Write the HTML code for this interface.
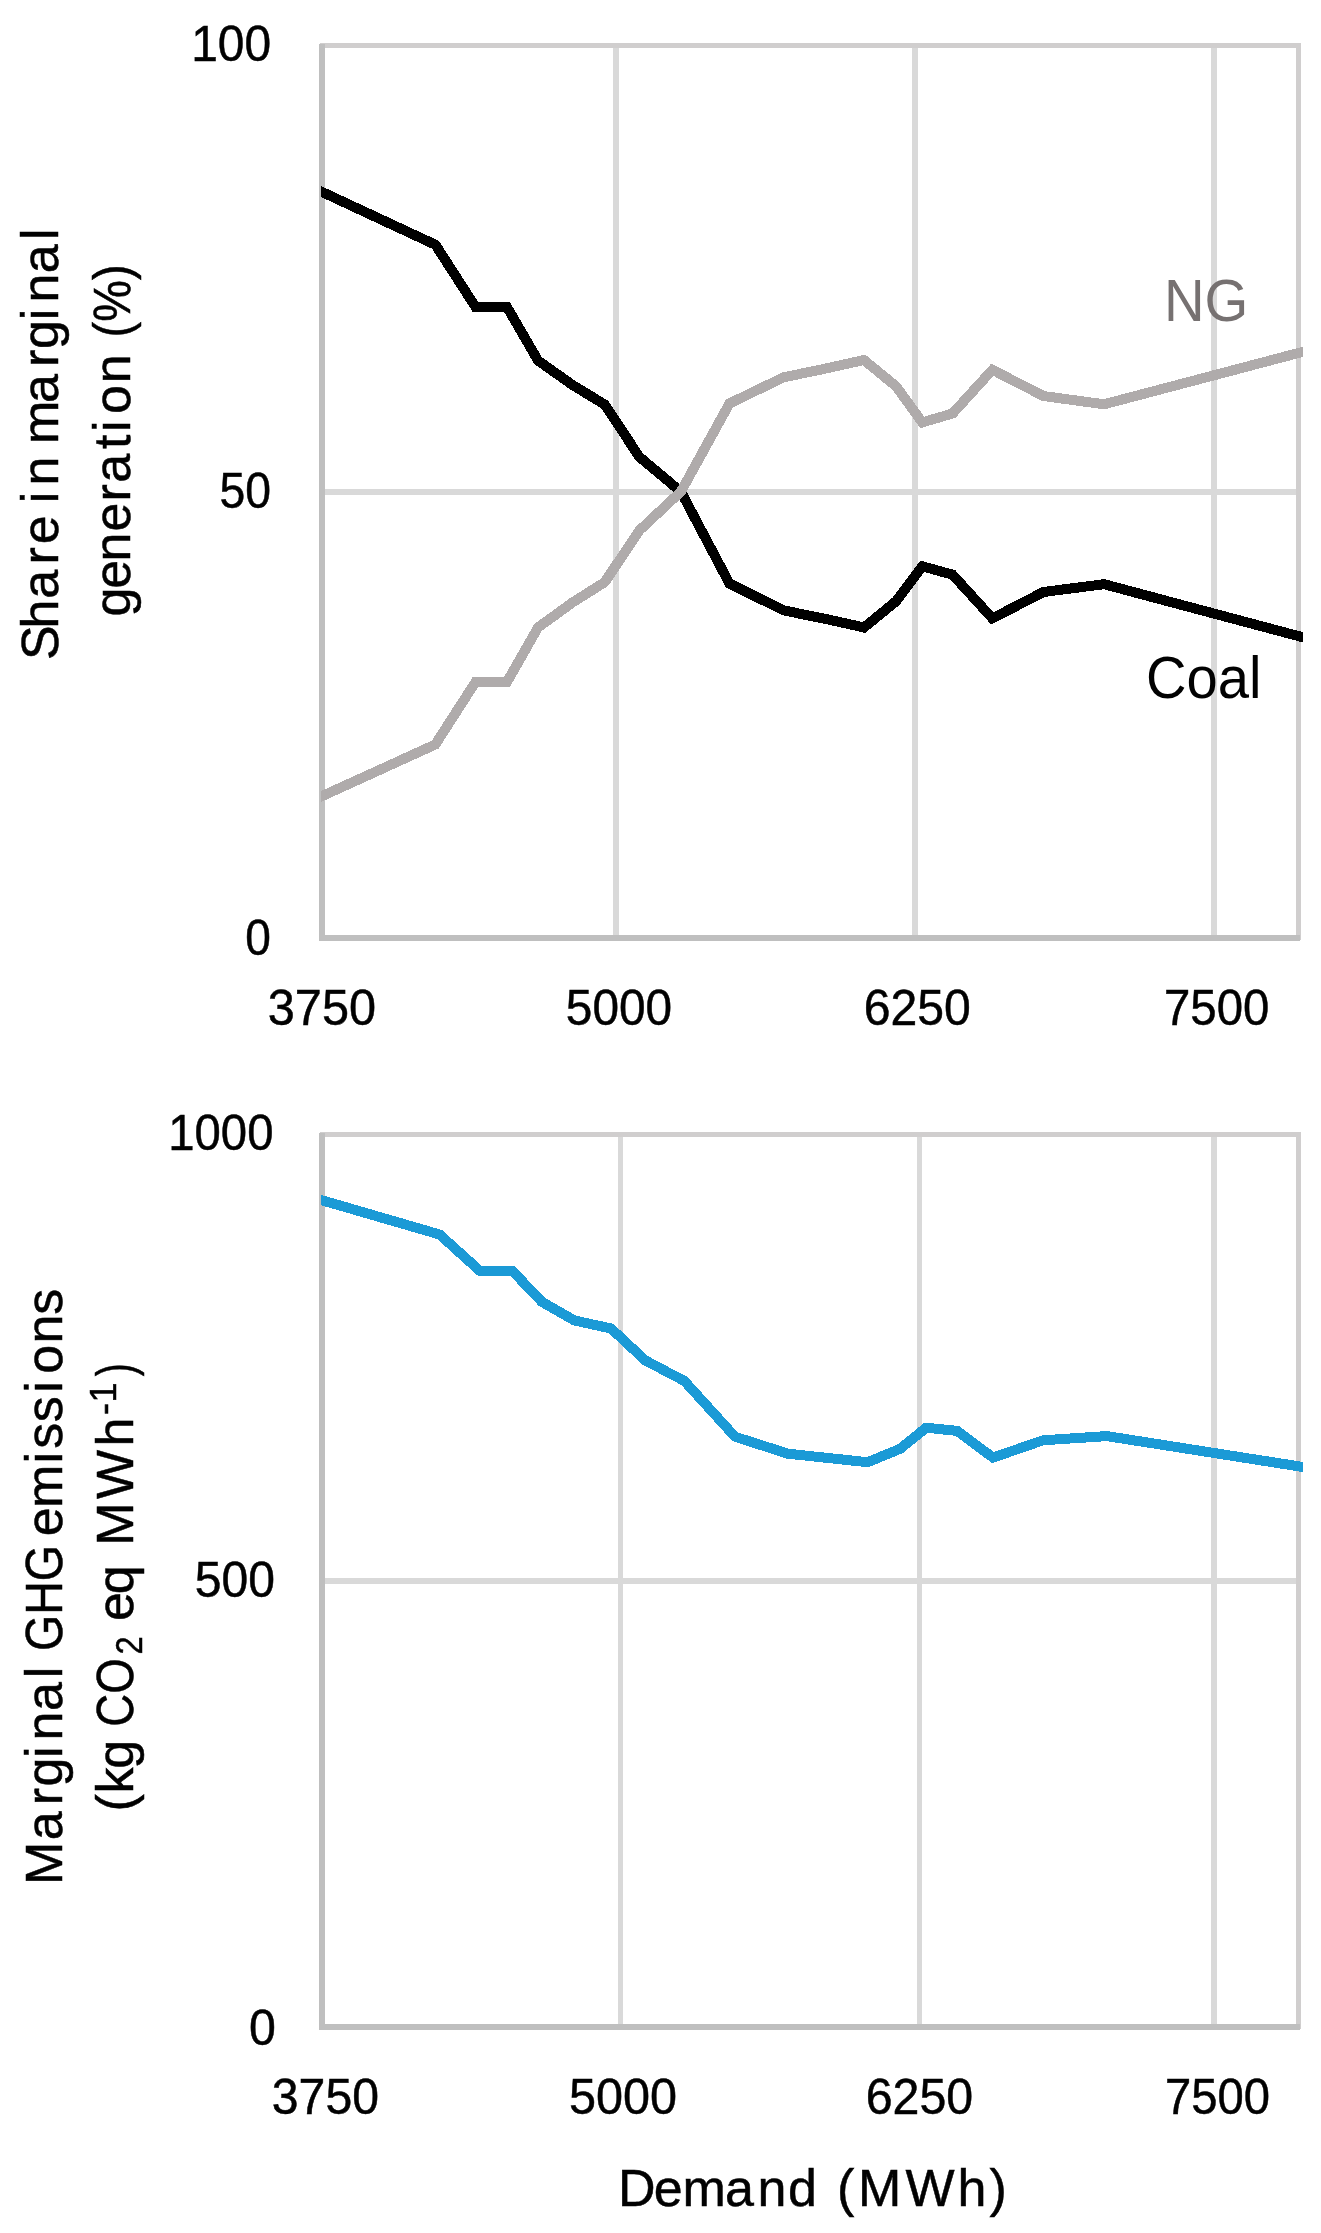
<!DOCTYPE html>
<html lang="en">
<head>
<meta charset="utf-8">
<title>Marginal generation share and marginal GHG emissions vs demand</title>
<style>
html,body{margin:0;padding:0;background:#fff;}
body{width:1321px;height:2233px;overflow:hidden;}
svg{display:block;}
svg text{font-family:'Liberation Sans', sans-serif;font-weight:400;}
</style>
</head>
<body>
<svg width="1321" height="2233" viewBox="0 0 1321 2233">
<defs><clipPath id="plotclip"><rect x="321" y="0" width="982" height="2233"/></clipPath></defs>
<rect x="0" y="0" width="1321" height="2233" fill="#ffffff"/>
<g shape-rendering="crispEdges">
<rect x="613" y="45" width="6" height="893" fill="#D9D9D9"/>
<rect x="912" y="45" width="6" height="893" fill="#D9D9D9"/>
<rect x="1211" y="45" width="6" height="893" fill="#D9D9D9"/>
<rect x="322" y="489" width="977" height="6" fill="#D9D9D9"/>
<rect x="320" y="43" width="981" height="5" fill="#D0CECE"/>
<rect x="1296" y="43" width="5" height="897" fill="#D0CECE"/>
<rect x="319" y="44" width="6" height="897" fill="#BFBFBF"/>
<rect x="319" y="935" width="981" height="6" fill="#BFBFBF"/>
<rect x="618" y="1134" width="5" height="893" fill="#D9D9D9"/>
<rect x="917" y="1134" width="5" height="893" fill="#D9D9D9"/>
<rect x="1211" y="1134" width="6" height="893" fill="#D9D9D9"/>
<rect x="322" y="1578" width="977" height="6" fill="#D9D9D9"/>
<rect x="320" y="1132" width="981" height="5" fill="#D0CECE"/>
<rect x="1296" y="1132" width="5" height="897" fill="#D0CECE"/>
<rect x="319" y="1133" width="6" height="897" fill="#BFBFBF"/>
<rect x="319" y="2024" width="981" height="6" fill="#BFBFBF"/>
</g>
<g shape-rendering="crispEdges">
<polyline points="309,185.9 321,191.5 435.5,244.8 475.5,307 507,307 538,360.5 572.5,385 604.7,404.5 639.3,456.8 681,491.8 729.5,583.6 783.7,610.4 826,619 864,627.5 896,601.3 922.3,566.3 952.6,574.7 992.4,618.4 1043.4,592 1104,584.2 1303,637.3 1315,640.5" fill="none" stroke="#000000" stroke-width="10" stroke-linejoin="miter" stroke-miterlimit="10" clip-path="url(#plotclip)"/>
<polyline points="309,802.1 321,796.6 435.3,744.5 475.5,682 507,682 538,627.5 572.5,602.5 604.7,582.2 639.2,530.6 681,491.5 729.5,403.4 783.7,377.3 826,368.5 864,360 896,386.3 922.3,422.4 952.6,413.5 992.4,369.8 1043.4,396 1104,404.3 1303,351.8 1315,348.6" fill="none" stroke="#AFABAB" stroke-width="10" stroke-linejoin="miter" stroke-miterlimit="10" clip-path="url(#plotclip)"/>
<polyline points="309,1196.5 321,1200 439.6,1234.5 480,1271 512.5,1271 541.8,1301.8 574.3,1320.4 611.1,1328.5 645.3,1360.4 684.4,1381 735,1436.7 787.9,1453.7 867.6,1462.2 900.2,1448.8 926.2,1427.7 957.2,1430.9 993,1457.6 1043,1440.3 1106.9,1436.1 1303,1467 1315,1468.9" fill="none" stroke="#1B9AD6" stroke-width="10" stroke-linejoin="miter" stroke-miterlimit="10" clip-path="url(#plotclip)"/>
</g>
<g opacity="0.999">
<text fill="#000" stroke="#000" stroke-width="0.5" xml:space="preserve"><tspan x="191.13" y="61.00" font-size="49.5" textLength="79.91" lengthAdjust="spacingAndGlyphs">100</tspan></text>
<text fill="#000" stroke="#000" stroke-width="0.5" xml:space="preserve"><tspan x="219.52" y="508.00" font-size="49.5" textLength="51.52" lengthAdjust="spacingAndGlyphs">50</tspan></text>
<text fill="#000" stroke="#000" stroke-width="0.5" xml:space="preserve"><tspan x="245.36" y="955.00" font-size="49.5" textLength="25.62" lengthAdjust="spacingAndGlyphs">0</tspan></text>
<text fill="#000" stroke="#000" stroke-width="0.5" xml:space="preserve"><tspan x="267.84" y="1025.00" font-size="49.5" textLength="108.17" lengthAdjust="spacingAndGlyphs">3750</tspan></text>
<text fill="#000" stroke="#000" stroke-width="0.5" xml:space="preserve"><tspan x="565.84" y="1025.00" font-size="49.5" textLength="106.27" lengthAdjust="spacingAndGlyphs">5000</tspan></text>
<text fill="#000" stroke="#000" stroke-width="0.5" xml:space="preserve"><tspan x="863.80" y="1025.00" font-size="49.5" textLength="107.04" lengthAdjust="spacingAndGlyphs">6250</tspan></text>
<text fill="#000" stroke="#000" stroke-width="0.5" xml:space="preserve"><tspan x="1164.05" y="1025.00" font-size="49.5" textLength="105.29" lengthAdjust="spacingAndGlyphs">7500</tspan></text>
<text fill="#000" stroke="#000" stroke-width="0.5" xml:space="preserve"><tspan x="168.23" y="1150.00" font-size="49.5" textLength="105.22" lengthAdjust="spacingAndGlyphs">1000</tspan></text>
<text fill="#000" stroke="#000" stroke-width="0.5" xml:space="preserve"><tspan x="194.87" y="1597.00" font-size="49.5" textLength="80.18" lengthAdjust="spacingAndGlyphs">500</tspan></text>
<text fill="#000" stroke="#000" stroke-width="0.5" xml:space="preserve"><tspan x="249.03" y="2045.00" font-size="49.5" textLength="26.85" lengthAdjust="spacingAndGlyphs">0</tspan></text>
<text fill="#000" stroke="#000" stroke-width="0.5" xml:space="preserve"><tspan x="271.85" y="2114.00" font-size="49.5" textLength="107.13" lengthAdjust="spacingAndGlyphs">3750</tspan></text>
<text fill="#000" stroke="#000" stroke-width="0.5" xml:space="preserve"><tspan x="568.90" y="2114.00" font-size="49.5" textLength="108.04" lengthAdjust="spacingAndGlyphs">5000</tspan></text>
<text fill="#000" stroke="#000" stroke-width="0.5" xml:space="preserve"><tspan x="865.73" y="2114.00" font-size="49.5" textLength="107.46" lengthAdjust="spacingAndGlyphs">6250</tspan></text>
<text fill="#000" stroke="#000" stroke-width="0.5" xml:space="preserve"><tspan x="1165.04" y="2114.00" font-size="49.5" textLength="104.98" lengthAdjust="spacingAndGlyphs">7500</tspan></text>
<text fill="#767171" stroke="#767171" stroke-width="0" xml:space="preserve"><tspan x="1163.91" y="321.30" font-size="59" textLength="84.41" lengthAdjust="spacingAndGlyphs">NG</tspan></text>
<text fill="#000" stroke="#000" stroke-width="0" xml:space="preserve"><tspan x="1146.00" y="697.70" font-size="60" textLength="115.43" lengthAdjust="spacingAndGlyphs">Coal</tspan></text>
<text fill="#000" stroke="#000" stroke-width="0.5" xml:space="preserve"><tspan x="618.1 653.8 682.4 725.0 757.5 787.9" y="2205.80" font-size="52">Demand</tspan> <tspan x="837.1 858.1 905.4 957.6 989.4" y="2205.80" font-size="52">(MWh)</tspan></text>
<text transform="rotate(-90)" fill="#000" stroke="#000" stroke-width="0.5" xml:space="preserve"><tspan x="-660.0 -628.5 -598.8 -564.4 -544.2" y="58.00" font-size="52">Share</tspan> <tspan x="-503.2 -485.6" y="58.00" font-size="52">in</tspan> <tspan x="-444.1 -403.0 -367.1 -348.9 -320.2 -302.6 -273.2 -240.1" y="58.00" font-size="52">marginal</tspan></text>
<text transform="rotate(-90)" fill="#000" stroke="#000" stroke-width="0.5" xml:space="preserve"><tspan x="-616.4 -588.8 -561.4 -531.4 -501.5 -482.8 -449.0 -432.1 -414.1 -383.2" y="130.20" font-size="52">generation</tspan> <tspan x="-337.42" y="130.20" font-size="52" textLength="72.90" lengthAdjust="spacingAndGlyphs">(%)</tspan></text>
<text transform="rotate(-90)" fill="#000" stroke="#000" stroke-width="0.5" xml:space="preserve"><tspan x="-1884.9 -1840.2 -1805.3 -1786.6 -1757.9 -1740.4 -1711.1 -1678.3" y="61.70" font-size="52">Marginal</tspan> <tspan x="-1651.07" y="61.70" font-size="52" textLength="106.07" lengthAdjust="spacingAndGlyphs">GHG</tspan> <tspan x="-1536.2 -1507.9 -1463.6 -1448.7 -1422.3 -1392.7 -1373.8 -1343.6 -1314.8" y="61.70" font-size="52">emissions</tspan></text>
<text transform="rotate(-90)" fill="#000" stroke="#000" stroke-width="0.5" xml:space="preserve"><tspan x="-1811.6 -1793.6 -1768.7" y="133.20" font-size="52">(kg</tspan> <tspan x="-1726.73" y="133.20" font-size="52" textLength="68.45" lengthAdjust="spacingAndGlyphs">CO</tspan><tspan x="-1654.56" y="142.20" font-size="36" textLength="18.18" lengthAdjust="spacingAndGlyphs">2</tspan> <tspan x="-1621.1 -1594.2" y="133.20" font-size="52">eq</tspan> <tspan x="-1545.8 -1499.0 -1446.6" y="133.20" font-size="52">MWh</tspan><tspan x="-1415.07" y="116.30" font-size="36" textLength="32.53" lengthAdjust="spacing">-1</tspan><tspan x="-1376.28" y="133.20" font-size="52" textLength="13.04" lengthAdjust="spacingAndGlyphs">)</tspan></text>
</g>
</svg>
</body>
</html>
